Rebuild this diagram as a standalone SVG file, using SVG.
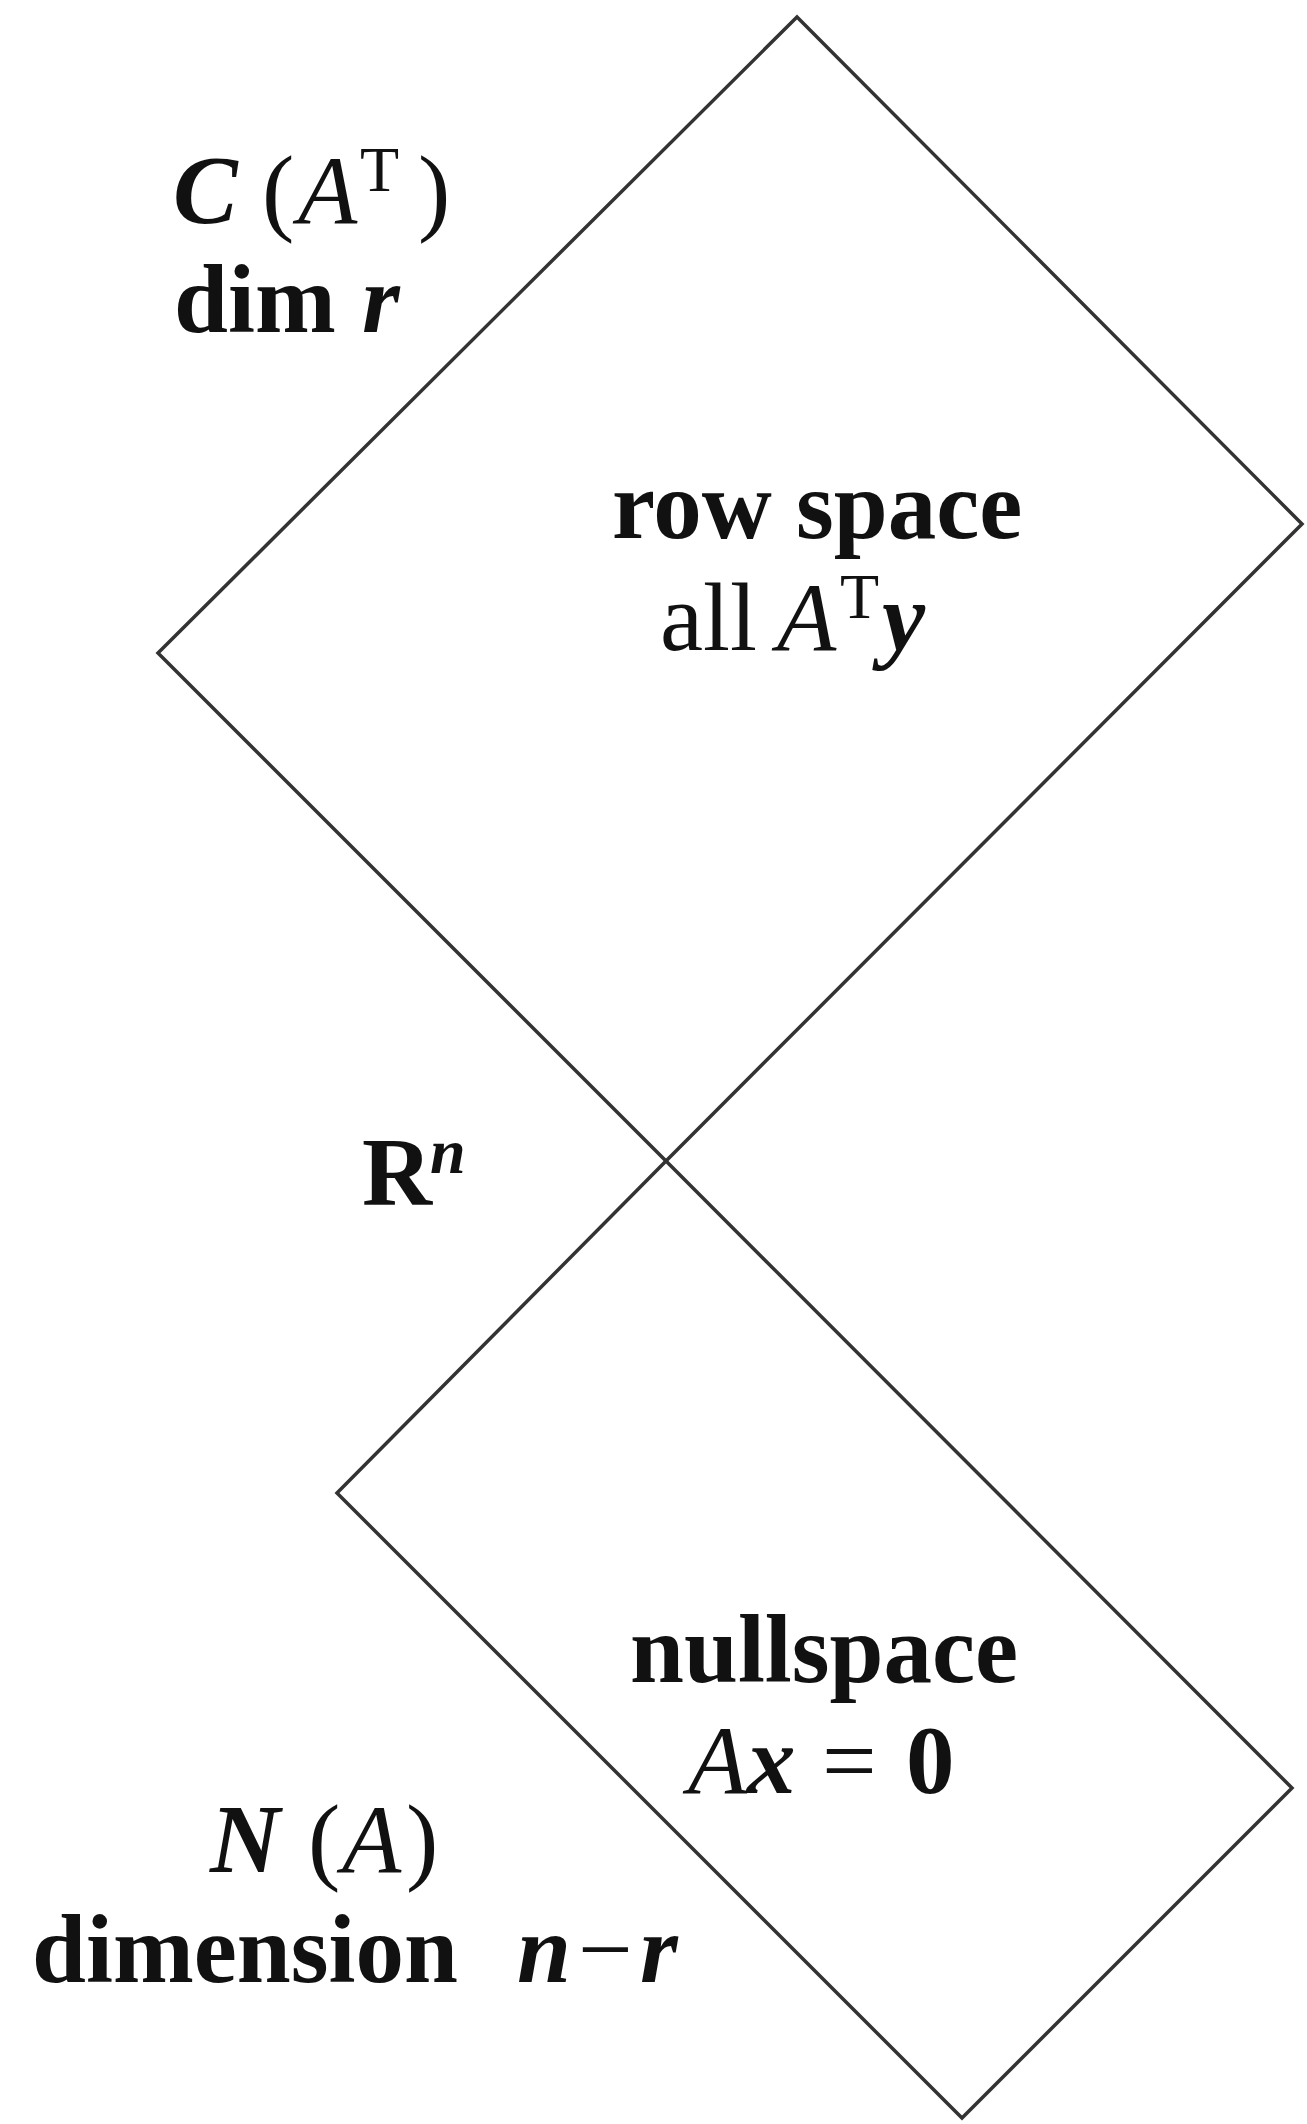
<svg xmlns="http://www.w3.org/2000/svg" width="1307" height="2124" viewBox="0 0 1307 2124">
<style>
.shape{fill:none;stroke:#333;stroke-width:3.5;stroke-linejoin:miter}
text{font-family:"Liberation Serif","Times New Roman",serif;font-size:97px;fill:#111}
.b{font-weight:bold}
.i{font-style:italic}
.bi{font-weight:bold;font-style:italic}
.sup{font-size:64px}
</style>
<rect width="1307" height="2124" fill="#fff"/>
<g id="row-space">
<polygon class="shape" points="797,17 1302,524 666,1161 158,653"/>
<text><tspan class="b" x="612" y="538">row space</tspan></text>
<text><tspan x="660" y="650">all</tspan><tspan class="i" x="777" y="650">A</tspan><tspan class="sup" x="840" y="618">T</tspan><tspan class="bi" x="882" y="650">y</tspan></text>
</g>
<g id="nullspace">
<polygon class="shape" points="666,1161 1292,1788 962,2118 337,1493"/>
<text><tspan class="b" x="630" y="1682">nullspace</tspan></text>
<text><tspan class="i" x="688" y="1793">A</tspan><tspan class="bi" x="747" y="1793">x</tspan><tspan x="822" y="1793">=</tspan><tspan class="b" x="906" y="1793">0</tspan></text>
</g>
<g id="label-row">
<text><tspan class="bi" x="173" y="223">C</tspan><tspan x="262" y="223">(</tspan><tspan class="i" x="298" y="223">A</tspan><tspan class="sup" x="360" y="191">T</tspan><tspan x="418" y="223">)</tspan></text>
<text><tspan class="b" x="174" y="332">dim</tspan><tspan class="bi" x="362" y="332">r</tspan></text>
</g>
<g id="label-rn">
<text><tspan class="b" x="362" y="1205">R</tspan><tspan class="bi sup" x="430" y="1173">n</tspan></text>
</g>
<g id="label-null">
<text><tspan class="bi" x="210" y="1872">N</tspan><tspan x="308" y="1872">(</tspan><tspan class="i" x="342" y="1872">A</tspan><tspan x="406" y="1872">)</tspan></text>
<text><tspan class="b" x="32" y="1982">dimension</tspan><tspan class="bi" x="517" y="1982">n</tspan><tspan x="578" y="1982">−</tspan><tspan class="bi" x="640" y="1982">r</tspan></text>
</g>
<g id="connectors"></g>
</svg>
